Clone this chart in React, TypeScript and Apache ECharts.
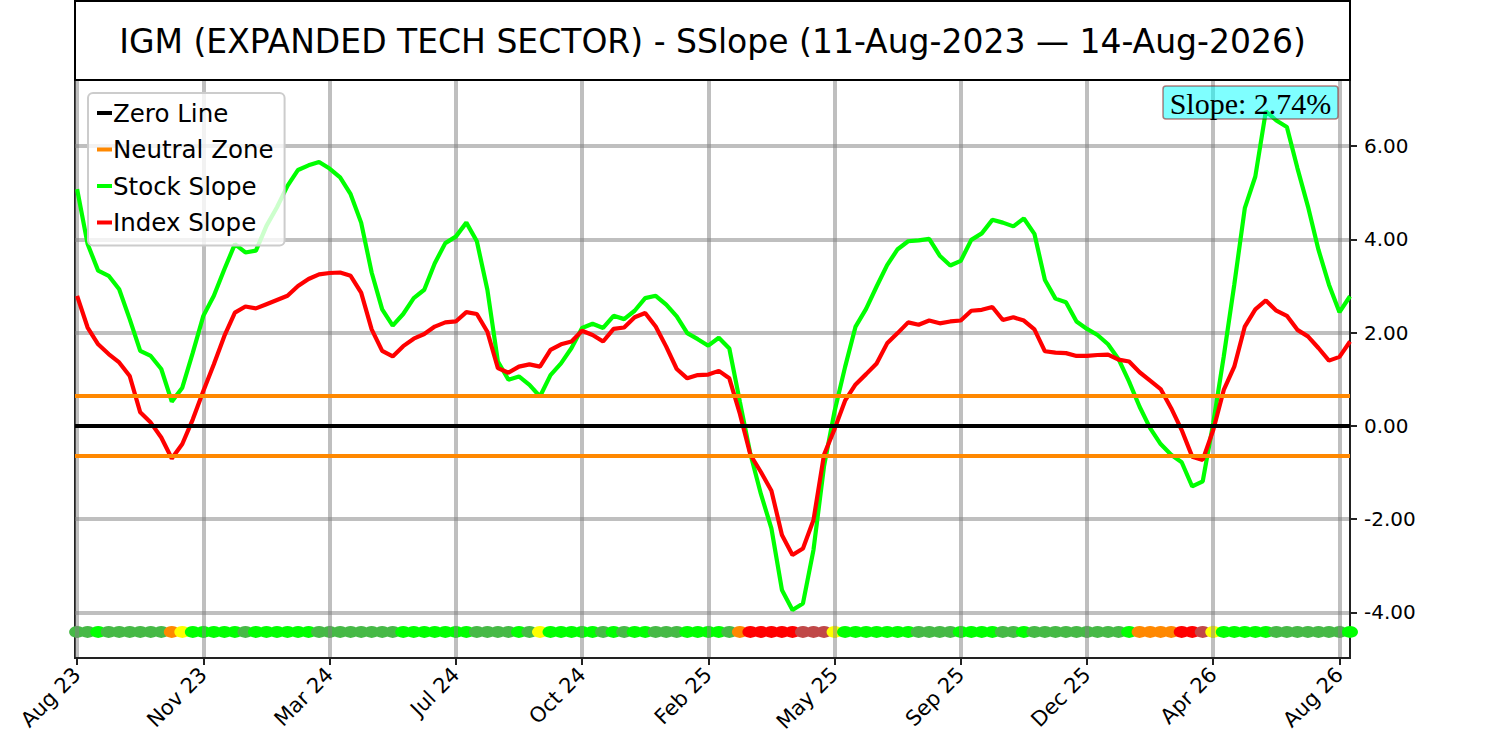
import React, { useEffect, useRef } from "react";
import * as echarts from "echarts";

// ---------- data ----------
const TICKER = "IGM (EXPANDED TECH SECTOR)";
const START_DATE = "11-Aug-2023";
const END_DATE = "14-Aug-2026";
const SLOPE_PCT = 2.74;

const TICK_LABELS = ["Aug 23", "Nov 23", "Mar 24", "Jul 24", "Oct 24", "Feb 25", "May 25", "Sep 25", "Dec 25", "Apr 26", "Aug 26"];
const TICK_INDEX = [0, 12, 24, 36, 48, 60, 72, 84, 96, 108, 120];
const Y_TICKS = [-4, -2, 0, 2, 4, 6];

const ZERO_LEVEL = 0;
const NEUTRAL_LEVEL = 0.65;
const DOT_LEVEL = -4.42;

const STOCK_SLOPE = [
  5.08, 3.9, 3.33, 3.22, 2.93, 2.29, 1.61, 1.5, 1.22, 0.52,
  0.82, 1.57, 2.36, 2.79, 3.36, 3.9, 3.72, 3.76, 4.29, 4.69,
  5.15, 5.49, 5.59, 5.66, 5.52, 5.33, 4.97, 4.36, 3.29, 2.5,
  2.15, 2.4, 2.74, 2.92, 3.49, 3.92, 4.06, 4.36, 3.96, 2.92,
  1.38, 0.99, 1.06, 0.88, 0.63, 1.09, 1.34, 1.67, 2.1, 2.19,
  2.1, 2.36, 2.29, 2.47, 2.74, 2.79, 2.6, 2.35, 1.99, 1.86,
  1.72, 1.89, 1.66, 0.52, -0.6, -1.46, -2.2, -3.52, -3.95, -3.81,
  -2.66, -0.87, 0.31, 1.26, 2.13, 2.51, 2.99, 3.45, 3.79, 3.96,
  3.98, 4.01, 3.65, 3.44, 3.54, 3.99, 4.13, 4.42, 4.36, 4.28,
  4.45, 4.12, 3.13, 2.73, 2.65, 2.24, 2.08, 1.95, 1.75, 1.43,
  0.95, 0.41, -0.05, -0.39, -0.62, -0.78, -1.3, -1.19, 0.06, 1.49,
  3.03, 4.67, 5.35, 6.75, 6.55, 6.41, 5.53, 4.71, 3.78, 3.03,
  2.44, 2.78,
];

const INDEX_SLOPE = [
  2.79, 2.11, 1.75, 1.54, 1.36, 1.07, 0.29, 0.07, -0.25, -0.7,
  -0.39, 0.14, 0.75, 1.32, 1.93, 2.43, 2.56, 2.52, 2.61, 2.7,
  2.79, 3.0, 3.15, 3.25, 3.28, 3.29, 3.22, 2.86, 2.07, 1.61,
  1.49, 1.71, 1.87, 1.97, 2.13, 2.22, 2.24, 2.44, 2.4, 2.02,
  1.24, 1.14, 1.27, 1.32, 1.27, 1.63, 1.75, 1.81, 2.04, 1.95,
  1.81, 2.08, 2.11, 2.33, 2.42, 2.13, 1.7, 1.22, 1.02, 1.09,
  1.1, 1.18, 1.02, 0.26, -0.62, -0.99, -1.39, -2.34, -2.77, -2.63,
  -2.02, -0.62, -0.07, 0.54, 0.89, 1.11, 1.34, 1.77, 1.99, 2.22,
  2.17, 2.26, 2.2, 2.24, 2.26, 2.47, 2.49, 2.55, 2.27, 2.33,
  2.26, 2.07, 1.6, 1.57, 1.56, 1.5, 1.5, 1.52, 1.53, 1.42,
  1.38, 1.15, 0.97, 0.79, 0.38, -0.09, -0.66, -0.73, -0.09, 0.77,
  1.27, 2.13, 2.5, 2.69, 2.47, 2.36, 2.06, 1.92, 1.67, 1.4,
  1.48, 1.81,
];

// G: rising, g: falling, O: neutral falling, Y: neutral rising, R: negative falling, r: negative rising
const SIGNAL = (
  "ggG" + "gggggg" + "OY" + "GGGGG" + "g" + "GGGGGG" + "gggggggg" + "GGGGGGG" + "gggg" +
  "G" + "g" + "Y" + "GGGGG" + "g" + "G" + "g" + "GG" + "ggg" + "GGGG" + "g" + "O" +
  "RRRRR" + "rrr" + "Y" + "GGGGGGG" + "gggg" + "GGGG" + "gg" + "G" + "ggggggggg" + "G" +
  "OOOO" + "RR" + "r" + "Y" + "GGGGG" + "ggggggg" + "G"
).split("");

const SIGNAL_COLORS: Record<string, string> = {
  G: "#00ff00",
  g: "#46b946",
  O: "#ff8800",
  Y: "#ffff00",
  R: "#ff0000",
  r: "#c04848",
};

const FONT = "DejaVu Sans";
const GRID_COLOR = "rgba(128,128,128,0.5)";
const DOT_HALF_BAND = 0.13;

export default function App() {
  const ref = useRef<HTMLDivElement>(null);

  useEffect(() => {
    if (!ref.current) return;
    const chart = echarts.init(ref.current, undefined, { renderer: "svg" });

    const title = `${TICKER} - SSlope (${START_DATE} \u2014 ${END_DATE})`;

    const option: any = {
      animation: false,
      backgroundColor: "#ffffff",
      textStyle: { fontFamily: FONT },
      grid: {
        left: 75,
        right: 150,
        top: 80,
        bottom: 83,
        show: true,
        borderColor: "#222222",
        borderWidth: 2,
        backgroundColor: "transparent",
        outerBoundsMode: "none",
        containLabel: false,
      },
      legend: {
        data: ["Zero Line", "Neutral Zone", "Stock Slope", "Index Slope"],
        orient: "vertical",
        left: 88,
        top: 93,
        icon: "rect",
        itemWidth: 15,
        itemHeight: 4,
        itemGap: 10.5,
        padding: [7, 11, 10, 9],
        backgroundColor: "rgba(255,255,255,0.8)",
        borderColor: "#cccccc",
        borderWidth: 2,
        borderRadius: 5,
        selectedMode: false,
        textStyle: { fontSize: 24.5, color: "#000", lineHeight: 26, fontFamily: FONT, padding: [0, 0, 0, -4] },
      },
      xAxis: {
        type: "value",
        min: -0.2,
        max: 121,
        axisLine: { show: true, onZero: false, lineStyle: { color: "#222", width: 2 } },
        axisTick: { show: true, length: 7, lineStyle: { color: "#222", width: 2 }, customValues: TICK_INDEX },
        axisLabel: {
          customValues: TICK_INDEX,
          formatter: (v: number) => {
            const k = TICK_INDEX.indexOf(Math.round(v));
            return k >= 0 ? TICK_LABELS[k] : "";
          },
          rotate: 45,
          fontSize: 21,
          color: "#000",
          margin: 13,
          fontFamily: FONT,
        },
        splitLine: { show: true, lineStyle: { color: GRID_COLOR, width: 4 } },
      },
      yAxis: {
        type: "value",
        position: "right",
        min: -4.98,
        max: 7.42,
        axisLine: { show: true, onZero: false, lineStyle: { color: "#222", width: 2 } },
        axisTick: { show: true, length: 7, lineStyle: { color: "#222", width: 2 }, customValues: Y_TICKS },
        axisLabel: {
          customValues: Y_TICKS,
          formatter: (v: number) => v.toFixed(2),
          fontSize: 20,
          color: "#000",
          margin: 14,
          fontFamily: FONT,
        },
        splitLine: { show: true, lineStyle: { color: GRID_COLOR, width: 4 } },
      },
      series: [
        {
          name: "Zero Line",
          type: "line",
          data: [],
          color: "#000000",
          markLine: {
            silent: true,
            symbol: "none",
            label: { show: false },
            lineStyle: { color: "#000000", width: 4, type: "solid" },
            data: [{ yAxis: ZERO_LEVEL }],
          },
        },
        {
          name: "Neutral Zone",
          type: "line",
          data: [],
          color: "#ff8800",
          markLine: {
            silent: true,
            symbol: "none",
            label: { show: false },
            lineStyle: { color: "#ff8800", width: 4, type: "solid" },
            data: [{ yAxis: NEUTRAL_LEVEL }, { yAxis: -NEUTRAL_LEVEL }],
          },
        },
        {
          name: "Stock Slope",
          type: "line",
          data: STOCK_SLOPE.map((v, i) => [i, v]),
          color: "#00ff00",
          showSymbol: false,
          smooth: false,
          lineStyle: { color: "#00ff00", width: 4.2 },
        },
        {
          name: "Index Slope",
          type: "line",
          data: INDEX_SLOPE.map((v, i) => [i, v]),
          color: "#ff0000",
          showSymbol: false,
          smooth: false,
          lineStyle: { color: "#ff0000", width: 4.2 },
        },
        {
          name: "Signal",
          type: "scatter",
          symbol: "circle",
          symbolSize: [16, 12],
          itemStyle: { opacity: 1 },
          data: SIGNAL.map((c, i) => ({ value: [i, DOT_LEVEL], itemStyle: { color: SIGNAL_COLORS[c], opacity: 1 } })),
          markLine: {
            silent: true,
            symbol: "none",
            label: { show: false },
            lineStyle: { color: GRID_COLOR, width: 4, type: "solid" },
            data: TICK_INDEX.map((t) => [
              { coord: [t, DOT_LEVEL - DOT_HALF_BAND] },
              { coord: [t, DOT_LEVEL + DOT_HALF_BAND] },
            ]),
          },
        },
      ],
      graphic: [
        {
          type: "rect",
          shape: { x: 75, y: 1, width: 1275, height: 79 },
          style: { fill: "none", stroke: "#000", lineWidth: 2 },
          z: 10,
        },
        {
          type: "text",
          x: 712.5,
          y: 41,
          style: {
            text: title,
            fontSize: 33,
            fontFamily: FONT,
            fill: "#000",
            align: "center",
            verticalAlign: "middle",
          },
          z: 10,
        },
        {
          type: "rect",
          shape: { x: 1163, y: 86, width: 175, height: 33, r: 3 },
          style: { fill: "rgba(0,255,255,0.5)", stroke: "rgba(128,0,0,0.5)", lineWidth: 1.5 },
          z: 20,
        },
        {
          type: "text",
          x: 1250.5,
          y: 103,
          style: {
            text: `Slope: ${SLOPE_PCT.toFixed(2)}%`,
            fontSize: 30,
            fontFamily: "Liberation Serif",
            fill: "#000",
            align: "center",
            verticalAlign: "middle",
          },
          z: 21,
        },
      ],
    };

    chart.setOption(option);
    return () => chart.dispose();
  }, []);

  return (
    <div
      ref={ref}
      style={{ position: "fixed", left: 0, top: 0, width: 1500, height: 741, background: "#fff" }}
    />
  );
}
